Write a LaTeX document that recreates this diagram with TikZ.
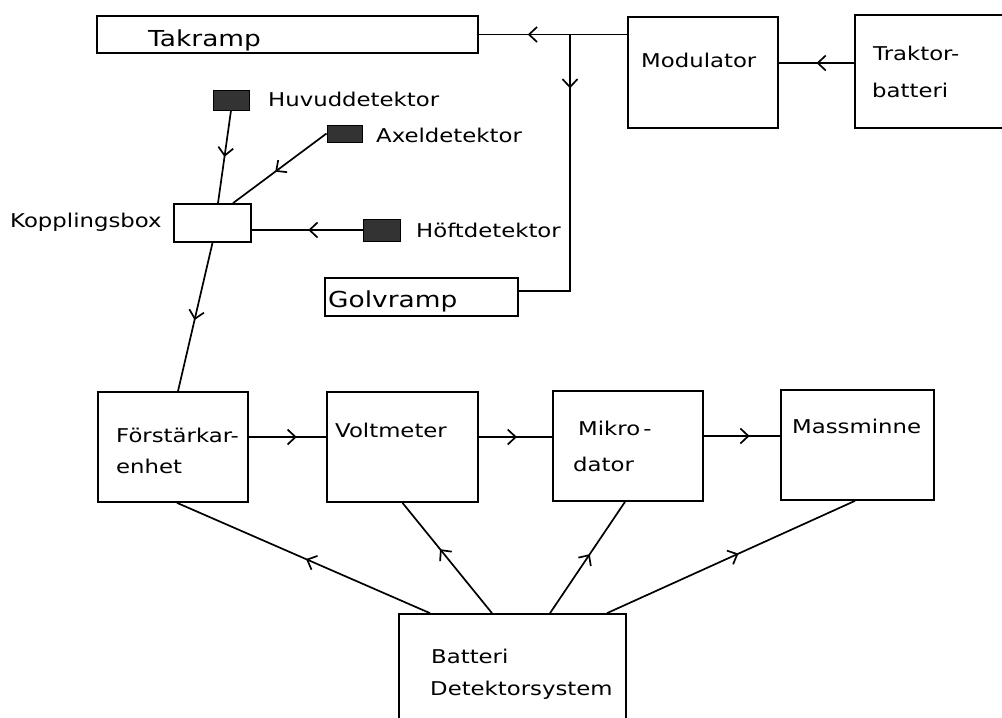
\documentclass[tikz,border=0pt]{standalone}
\usepackage{fontspec}
\newfontfamily\hand[FakeStretch=1.2]{DejaVu Sans}
\usetikzlibrary{arrows.meta,decorations.markings,calc}

\tikzset{
    box/.style={draw, line width=1.7pt, rectangle, inner sep=0pt},
    sensor/.style={draw, line width=1pt, fill=black!80, rectangle, inner sep=0pt},
    txt/.style={font=\hand\fontsize{19}{21}\selectfont, anchor=base west, inner sep=0pt},
    bigtxt/.style={font=\hand\fontsize{22}{24}\selectfont, anchor=base west, inner sep=0pt},
    wire/.style={line width=1.7pt},
    midtip/.style={postaction={decorate}, decoration={markings,
        mark=at position #1 with {\arrow{Straight Barb[length=8pt,width=15pt,line width=1.7pt]}}}}
}

\begin{document}
\begin{tikzpicture}[x=1pt,y=-1pt]
        \useasboundingbox (0,0) rectangle (1002,718);

        % Ramps, modulator and tractor battery
        \node[box, minimum width=381pt, minimum height=37pt] (tak) at (287.5,34.5) {};
        \node[box, minimum width=150pt, minimum height=111pt] (mod) at (703,72.5) {};
        \node[box, minimum width=150pt, minimum height=113pt] (trak) at (930,71.5) {};
        \node[box, minimum width=193pt, minimum height=38pt] (golv) at (421.5,297) {};

        \node[bigtxt] (taktxt) at (148,46) {Takramp};
        \node[txt] (modtxt) at (641,67) {Modulator};
        \node[txt] (traktxt) at (873,60) {Traktor-};
        \node[txt] (battxt) at (872,97) {batteri};
        \node[bigtxt] (golvtxt) at (328,307) {Golvramp};

        % Detectors and the coupling box
        \node[sensor, minimum width=36pt, minimum height=20pt] (huv) at (231,100) {};
        \node[sensor, minimum width=35pt, minimum height=17pt] (axel) at (344.5,133.5) {};
        \node[sensor, minimum width=37pt, minimum height=22pt] (hoft) at (381.5,230) {};
        \node[box, minimum width=77pt, minimum height=38pt] (kopp) at (212.5,223) {};

        \node[txt] (huvtxt) at (268,106) {Huvuddetektor};
        \node[txt] (axeltxt) at (376,142) {Axeldetektor};
        \node[txt] (hofttxt) at (416,237) {Höftdetektor};
        \node[txt] (kopptxt) at (10,227) {Kopplingsbox};

        % Bottom row
        \node[box, minimum width=150pt, minimum height=110pt] (fore) at (173,447) {};
        \node[box, minimum width=151pt, minimum height=110pt] (volt) at (402.5,447) {};
        \node[box, minimum width=150pt, minimum height=110pt] (mikro) at (628,446) {};
        \node[box, minimum width=153pt, minimum height=110pt] (mass) at (857.5,445) {};
        \node[box, minimum width=227pt, minimum height=131pt] (batt) at (512.5,679.5) {};

        \node[txt] (foretxt) at (116,442) {Förstärkar-};
        \node[txt] (enhtxt) at (116,473) {enhet};
        \node[txt] (volttxt) at (335,437) {Voltmeter};
        \node[txt] (mikrotxt) at (578,435) {Mikro\,-};
        \node[txt] (datortxt) at (573,471) {dator};
        \node[txt] (masstxt) at (792,433) {Massminne};
        \node[txt] (batttxt) at (431,663) {Batteri};
        \node[txt] (dettxt) at (430,695) {Detektorsystem};

        % Feed from the tractor battery to the ramps
        \coordinate (tb) at ([yshift=8.5pt]trak.west);
        \coordinate (jt) at (570,34.5);
        \draw[wire, midtip=0.5] (tb) -- (tb -| mod.east);
        \draw[wire, midtip=0.67] (mod.west |- tak.east) -- (tak.east);
        \draw[wire, midtip=0.175] (jt) |- ([yshift=6pt]golv.east);

        % Detectors into the coupling box
        \draw[wire, midtip=0.5] (huv.south) -- ([xshift=5.5pt]kopp.north);
        \draw[wire, midtip=0.55] (axel.west) -- ([xshift=20.5pt]kopp.north);
        \draw[wire, midtip=0.49] (hoft.west) -- (hoft.west -| kopp.east);
        \draw[wire, midtip=0.52] (kopp.south) -- ([xshift=5pt]fore.north);

        % Signal chain
        \foreach \a/\b/\p in {fore/volt/0.62, volt/mikro/0.52, mikro/mass/0.6}
            \draw[wire, midtip=\p] ([yshift=10pt]\a.east) -- ([yshift=10pt]\a.east -| \b.west);

        % Battery supply to each unit
        \foreach \s/\b/\e/\p in {-82.5/fore/4/0.49, -20.5/volt/0/0.58, 37.5/mikro/-3/0.53, 94.5/mass/-2.5/0.53}
            \draw[wire, midtip=\p] ([xshift=\s pt]batt.north) -- ([xshift=\e pt]\b.south);

    \end{tikzpicture}
\end{document}
